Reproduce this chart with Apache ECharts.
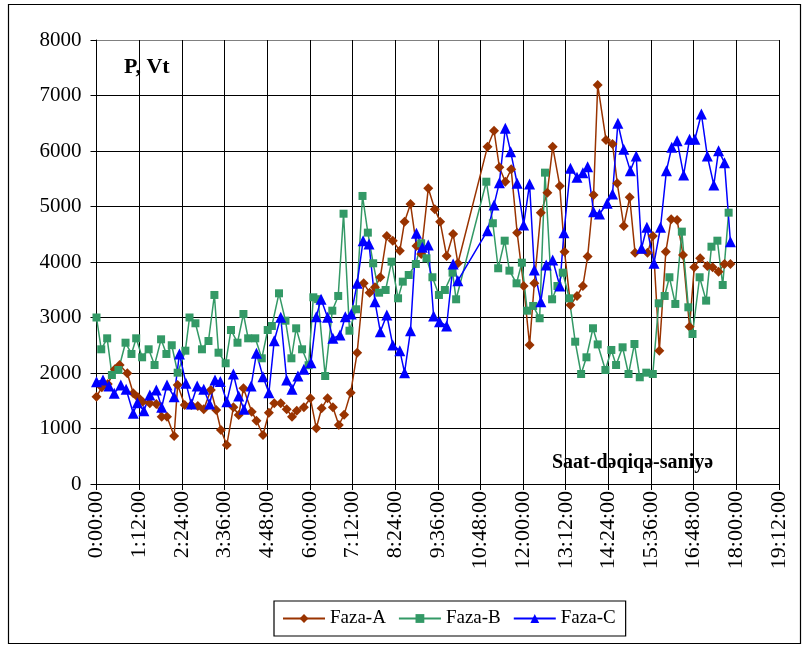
<!DOCTYPE html>
<html>
<head>
<meta charset="utf-8">
<script src="https://cdn.jsdelivr.net/npm/echarts@6/dist/echarts.min.js"></script>
<style>
  html, body { margin: 0; padding: 0; background: #fff; }
  #chart { width: 802px; height: 646px; }
</style>
</head>
<body>
<div id="chart"></div>
<script>
// Measurement times (minutes since 0:00:00) and active power (W) per phase
const timeA = [0, 9, 19, 31, 39, 52, 62, 70, 78, 90, 101, 110, 119, 131, 137, 149, 160, 171, 181, 193,
  202, 210, 220, 231, 240, 248, 262, 270, 281, 291, 300, 311, 321, 330, 338, 350, 361, 371, 380, 390,
  399, 409, 418, 429, 440, 451, 461, 470, 479, 490, 500, 512, 520, 530, 540, 548, 560, 571, 580, 591,
  602, 610, 660, 671, 680, 690, 700, 710, 721, 731, 739, 750, 761, 770, 782, 790, 800, 811, 821, 829,
  839, 846, 860, 871, 879, 890, 900, 909, 930, 939, 950, 961, 970, 980, 990, 1001, 1009, 1019, 1031, 1040,
  1050, 1060, 1070];
const valA = [1573, 1742, 1800, 2066, 2144, 1994, 1634, 1562, 1483, 1454, 1441, 1213, 1213, 865, 1784, 1423, 1423, 1405, 1346, 1694,
  1333, 973, 703, 1382, 1243, 1724, 1303, 1141, 883, 1285, 1454, 1454, 1346, 1213, 1321, 1382, 1544, 1004, 1364, 1544,
  1382, 1063, 1250, 1645, 2366, 3616, 3447, 3544, 3725, 4469, 4384, 4204, 4727, 5046, 4289, 4144, 5328, 4950, 4727, 4108,
  4505, 3977, 6078, 6366, 5707, 5447, 5671, 4529, 3568, 2505, 3616, 4889, 5249, 6078, 5370, 4186, 3226, 3388, 3568, 4097,
  5208, 7190, 6199, 6127, 5419, 4649, 5166, 4168, 4168, 4469, 2402, 4186, 4770, 4757, 4127, 2835, 3905, 4067, 3928, 3905,
  3826, 3964, 3964];

const timeB = [0, 8, 18, 26, 37, 49, 59, 67, 77, 88, 98, 109, 118, 127, 137, 150, 157, 167, 178, 189,
  199, 206, 218, 227, 238, 248, 256, 268, 279, 289, 296, 308, 319, 329, 337, 347, 358, 366, 374, 386,
  398, 408, 417, 427, 438, 449, 458, 467, 477, 488, 498, 509, 517, 527, 539, 548, 557, 567, 578, 588,
  601, 607, 658, 669, 678, 689, 697, 709, 718, 727, 737, 748, 757, 769, 778, 787, 798, 808, 818, 827,
  838, 846, 859, 869, 877, 888, 898, 908, 917, 928, 939, 949, 959, 967, 977, 988, 999, 1006, 1018, 1029,
  1038, 1048, 1057, 1067];
const valB = [3000, 2427, 2625, 1964, 2054, 2546, 2343, 2625, 2283, 2427, 2144, 2607, 2343, 2500, 2006, 2402, 3000, 2896, 2427, 2577,
  3406, 2366, 2175, 2775, 2546, 3063, 2625, 2625, 2265, 2775, 2847, 3436, 2943, 2265, 2805, 2427, 2140, 3364, 3330, 1946,
  3123, 3388, 4870, 2762, 3148, 5190, 4529, 3977, 3447, 3496, 4006, 3346, 3646, 3766, 3964, 4337, 4067, 3725, 3406, 3496,
  3808, 3328, 5447, 4698, 3887, 4384, 3844, 3616, 3988, 3123, 3208, 2986, 5610, 3328, 3568, 3808, 3346, 2564, 1982, 2283,
  2806, 2515, 2054, 2415, 2144, 2463, 1982, 2523, 1923, 2006, 1982, 3256, 3388, 3725, 3244, 4547, 3184, 2703, 3725, 3304,
  4276, 4384, 3586, 4889];

const timeC = [0, 11, 21, 30, 41, 50, 62, 69, 80, 90, 101, 110, 119, 131, 140, 151, 160, 170, 181, 191,
  200, 209, 220, 231, 240, 249, 261, 270, 281, 291, 300, 311, 321, 330, 340, 350, 362, 371, 379, 390,
  399, 411, 420, 430, 440, 450, 460, 470, 479, 490, 500, 512, 520, 530, 540, 550, 560, 569, 579, 591,
  602, 610, 660, 671, 680, 690, 699, 710, 721, 731, 739, 750, 759, 770, 782, 789, 800, 811, 821, 829,
  839, 849, 862, 871, 880, 890, 901, 911, 920, 929, 941, 952, 962, 971, 980, 991, 1001, 1010, 1021, 1031,
  1042, 1050, 1060, 1070];
const valC = [1844, 1874, 1766, 1634, 1784, 1706, 1274, 1465, 1321, 1604, 1694, 1382, 1784, 1573, 2343, 1814, 1441, 1766, 1706, 1441,
  1874, 1845, 1483, 1982, 1586, 1346, 1766, 2355, 1934, 1645, 2582, 3004, 1874, 1706, 1946, 2067, 2186, 3015, 3328, 3004,
  2625, 2685, 3015, 3063, 3616, 4384, 4325, 3285, 2745, 3045, 2505, 2402, 2006, 2763, 4518, 4265, 4307, 3027, 2925, 2847,
  3964, 3663, 4565, 5028, 5429, 6410, 5988, 5419, 4667, 5406, 3856, 3285, 3946, 4036, 3568, 4529, 5689, 5527, 5610, 5718,
  4907, 4865, 5058, 5226, 6500, 6031, 5646, 5911, 4247, 4626, 3977, 4626, 5646, 6067, 6186, 5568, 6211, 6211, 6667, 5911,
  5388, 6006, 5790, 4366];

const seriesNames = ['Faza-A', 'Faza-B', 'Faza-C'];
const yTicks = { min: 0, max: 8000, step: 1000 };
const xTicks = { min: 0, max: 1152, step: 72 };   // 0:00:00 .. 19:12:00, every 1:12:00

function pairs(t, v) { return t.map((m, i) => [m, v[i]]); }
function hms(m) {
  const h = Math.floor(m / 60), mm = Math.round(m % 60);
  return h + ':' + String(mm).padStart(2, '0') + ':00';
}

const serif = '"Liberation Serif", "Times New Roman", serif';
const chart = echarts.init(document.getElementById('chart'), null, { renderer: 'canvas' });

chart.setOption({
  animation: false,
  backgroundColor: '#fff',
  grid: { left: 96.5, right: 23, top: 40, bottom: 162, containLabel: false },
  xAxis: {
    type: 'value',
    min: xTicks.min, max: xTicks.max, interval: xTicks.step,
    axisLine: { show: true, lineStyle: { color: '#000', width: 1 } },
    axisTick: { show: true, inside: false, length: 6, lineStyle: { color: '#000' } },
    splitLine: { show: true, lineStyle: { color: '#000', width: 1 } },
    axisLabel: {
      rotate: 90, margin: 7, color: '#000', fontFamily: serif, fontSize: 22,
      formatter: v => hms(v)
    }
  },
  yAxis: {
    type: 'value',
    min: yTicks.min, max: yTicks.max, interval: yTicks.step,
    axisLine: { show: true, lineStyle: { color: '#000', width: 1 } },
    axisTick: { show: true, inside: false, length: 6, lineStyle: { color: '#000' } },
    splitLine: { show: true, lineStyle: { color: ['#000', '#000', '#000', '#000', '#000', '#000', '#000', '#000', '#808080'], width: 1 } },
    axisLabel: { margin: 15, color: '#000', fontFamily: serif, fontSize: 21, formatter: v => String(v) }
  },
  legend: {
    data: seriesNames,
    left: 274, top: 601,
    padding: [8, 10, 8, 8],
    itemGap: 12, itemWidth: 42, itemHeight: 11,
    borderColor: '#000', borderWidth: 1.2,
    textStyle: { color: '#000', fontFamily: serif, fontSize: 19 }
  },
  graphic: [
    { type: 'rect', silent: true, shape: { x: 8.5, y: 4.5, width: 792, height: 639 },
      style: { fill: 'none', stroke: '#000', lineWidth: 1.2 } },
    { type: 'text', left: 124, top: 56,
      style: { text: 'P, Vt', font: 'bold 22px ' + serif, fill: '#000' } },
    { type: 'text', left: 552, top: 453,
      style: { text: 'Saat-dəqiqə-saniyə', font: 'bold 20px ' + serif, fill: '#000' } }
  ],
  series: [
    { name: seriesNames[0], type: 'line', data: pairs(timeA, valA),
      symbol: 'diamond', symbolSize: 10, color: '#993300',
      lineStyle: { width: 1.5, color: '#993300' }, itemStyle: { color: '#993300' } },
    { name: seriesNames[1], type: 'line', data: pairs(timeB, valB),
      symbol: 'rect', symbolSize: 8, color: '#339966',
      lineStyle: { width: 1.5, color: '#339966' }, itemStyle: { color: '#339966' } },
    { name: seriesNames[2], type: 'line', data: pairs(timeC, valC),
      symbol: 'triangle', symbolSize: 11, color: '#0000ff',
      lineStyle: { width: 1.5, color: '#0000ff' }, itemStyle: { color: '#0000ff' } }
  ]
});
</script>
</body>
</html>
